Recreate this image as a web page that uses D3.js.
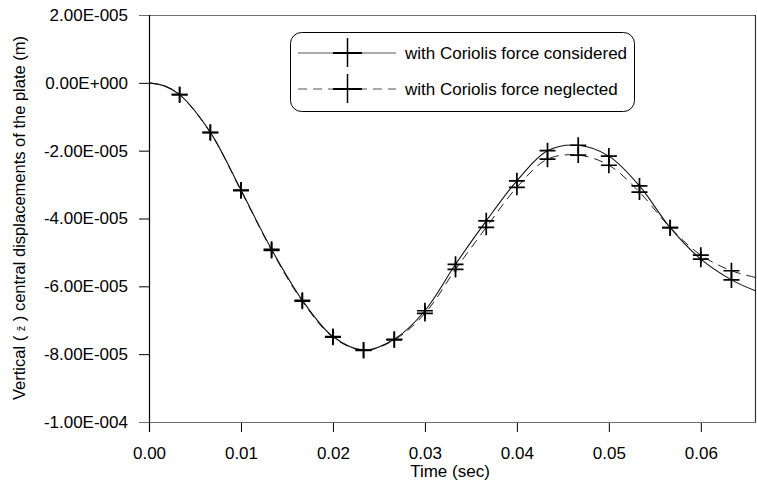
<!DOCTYPE html>
<html>
<head>
<meta charset="utf-8">
<script src="https://cdn.jsdelivr.net/npm/d3@7/dist/d3.min.js"></script>
<style>
  html, body { margin: 0; padding: 0; background: #fff; }
  svg { display: block; font-family: "Liberation Sans", Arial, sans-serif; }
</style>
</head>
<body>
<svg id="chart" width="757" height="485"></svg>
<script>
// ---- data ----
const times = [0, 0.00167, 0.00333, 0.00667, 0.01, 0.01333, 0.01667, 0.02, 0.02333, 0.02667, 0.03,
               0.03333, 0.03667, 0.04, 0.04333, 0.04667, 0.05, 0.05333, 0.05667, 0.06, 0.06333, 0.066];
const withCoriolis = [0, -0.09e-5, -0.35e-5, -1.46e-5, -3.16e-5, -4.91e-5, -6.41e-5, -7.48e-5, -7.88e-5, -7.56e-5, -6.72e-5,
                      -5.35e-5, -4.07e-5, -2.89e-5, -2.00e-5, -1.84e-5, -2.16e-5, -3.04e-5, -4.27e-5, -5.20e-5, -5.81e-5, -6.14e-5];
const withoutCoriolis = [0, -0.09e-5, -0.35e-5, -1.47e-5, -3.18e-5, -4.94e-5, -6.44e-5, -7.50e-5, -7.89e-5, -7.58e-5, -6.80e-5,
                         -5.50e-5, -4.26e-5, -3.08e-5, -2.25e-5, -2.13e-5, -2.43e-5, -3.22e-5, -4.27e-5, -5.08e-5, -5.54e-5, -5.74e-5];
const markerTimes = [0.00333, 0.00667, 0.01, 0.01333, 0.01667, 0.02, 0.02333, 0.02667, 0.03,
                     0.03333, 0.03667, 0.04, 0.04333, 0.04667, 0.05, 0.05333, 0.05667, 0.06, 0.06333];
const xTickValues = [0, 0.01, 0.02, 0.03, 0.04, 0.05, 0.06];
const xTickLabels = ["0.00", "0.01", "0.02", "0.03", "0.04", "0.05", "0.06"];
const yTickValues = [2e-5, 0, -2e-5, -4e-5, -6e-5, -8e-5, -1e-4];
const yTickLabels = ["2.00E-005", "0.00E+000", "-2.00E-005", "-4.00E-005", "-6.00E-005", "-8.00E-005", "-1.00E-004"];
const seriesNames = ["with Coriolis force considered", "with Coriolis force neglected"];
const xTitle = "Time (sec)";

// ---- layout ----
const pLeft = 149, pRight = 756, pTop = 15, pBottom = 422;
const fs = 17;
const svg = d3.select("#chart");
const x = d3.scaleLinear().domain([0, 0.066]).range([pLeft, pRight]);
const y = d3.scaleLinear().domain([-1e-4, 2e-5]).range([pBottom, pTop]);
const frameColor = "#6e6e6e";

// axes
const yAxis = d3.axisLeft(y).tickValues(yTickValues).tickSize(10).tickPadding(11)
  .tickFormat((d, i) => yTickLabels[i]);
const gy = svg.append("g").attr("transform", `translate(${pLeft},0)`).call(yAxis);
gy.select(".domain").remove();
gy.selectAll("line").attr("stroke", "#000");
gy.selectAll("text").attr("font-size", fs).attr("fill", "#000")
  .attr("font-family", "Liberation Sans, Arial, sans-serif");

const xAxis = d3.axisBottom(x).tickValues(xTickValues).tickSize(10).tickPadding(14.9)
  .tickFormat((d, i) => xTickLabels[i]);
const gx = svg.append("g").attr("transform", `translate(0,${pBottom})`).call(xAxis);
gx.select(".domain").remove();
gx.selectAll("line").attr("stroke", "#000");
gx.selectAll("text").attr("font-size", fs).attr("fill", "#000")
  .attr("font-family", "Liberation Sans, Arial, sans-serif");

// frame
svg.append("line").attr("x1", pLeft - 10).attr("x2", pRight).attr("y1", pTop + 0.5).attr("y2", pTop + 0.5)
  .attr("stroke", frameColor).attr("stroke-width", 1.2);
svg.append("line").attr("x1", pLeft - 10).attr("x2", pRight).attr("y1", pBottom + 0.5).attr("y2", pBottom + 0.5)
  .attr("stroke", frameColor).attr("stroke-width", 1.2);
svg.append("line").attr("x1", pRight - 0.5).attr("x2", pRight - 0.5).attr("y1", pTop).attr("y2", pBottom)
  .attr("stroke", "#333").attr("stroke-width", 1.2);
svg.append("line").attr("x1", pLeft + 0.5).attr("x2", pLeft + 0.5).attr("y1", pTop).attr("y2", pBottom + 10)
  .attr("stroke", "#000").attr("stroke-width", 1.2);

// titles
svg.append("text").attr("x", 450).attr("y", 476.5).attr("text-anchor", "middle")
  .attr("font-size", fs).text(xTitle);
const yt = svg.append("text").attr("transform", "translate(25,218) rotate(-90)")
  .attr("text-anchor", "middle").attr("font-size", 16.5);
yt.append("tspan").text("Vertical ( ");
yt.append("tspan").attr("font-size", 11).text("z\u0304");
yt.append("tspan").text(" ) central displacements of the plate (m)");

// clip
svg.append("defs").append("clipPath").attr("id", "clip")
  .append("rect").attr("x", pLeft).attr("y", pTop).attr("width", pRight - pLeft).attr("height", pBottom - pTop);

const line = d3.line().x(d => x(d[0])).y(d => y(d[1])).curve(d3.curveCatmullRom.alpha(0.5));
const solidData = times.map((t, i) => [t, withCoriolis[i]]);
const dashedData = times.map((t, i) => [t, withoutCoriolis[i]]);

const plot = svg.append("g").attr("clip-path", "url(#clip)");
plot.append("path").attr("d", line(dashedData)).attr("fill", "none")
  .attr("stroke", "#222").attr("stroke-width", 1).attr("stroke-dasharray", "9,6");
plot.append("path").attr("d", line(solidData)).attr("fill", "none")
  .attr("stroke", "#111").attr("stroke-width", 1.1);

const markerPath = s => `M${-s},0H${s}M0,${-s}V${s}`;
[solidData, dashedData].forEach(data => {
  plot.selectAll(null)
    .data(data.filter(d => markerTimes.includes(d[0])))
    .enter().append("path")
    .attr("d", markerPath(8))
    .attr("transform", d => `translate(${x(d[0])},${y(d[1])})`)
    .attr("stroke", "#000").attr("stroke-width", 1.7).attr("fill", "none");
});

// legend
const lg = svg.append("g");
lg.append("rect").attr("x", 290.5).attr("y", 32.5).attr("width", 344).attr("height", 79)
  .attr("rx", 11).attr("ry", 11).attr("fill", "#fff").attr("stroke", "#000").attr("stroke-width", 1);
const legendRows = [53, 89];
seriesNames.forEach((name, i) => {
  const yy = legendRows[i];
  lg.append("line").attr("x1", 298).attr("x2", 396).attr("y1", yy).attr("y2", yy)
    .attr("stroke", "#555").attr("stroke-width", 1)
    .attr("stroke-dasharray", i === 1 ? "9,6" : null);
  lg.append("line").attr("x1", 333).attr("x2", 362).attr("y1", yy).attr("y2", yy)
    .attr("stroke", "#000").attr("stroke-width", 2);
  lg.append("line").attr("x1", 347.5).attr("x2", 347.5).attr("y1", yy - 15).attr("y2", yy + 14)
    .attr("stroke", "#000").attr("stroke-width", 1.5);
  lg.append("text").attr("x", 405).attr("y", yy).attr("dy", "0.35em")
    .attr("font-size", fs).text(name);
});
</script>
</body>
</html>
